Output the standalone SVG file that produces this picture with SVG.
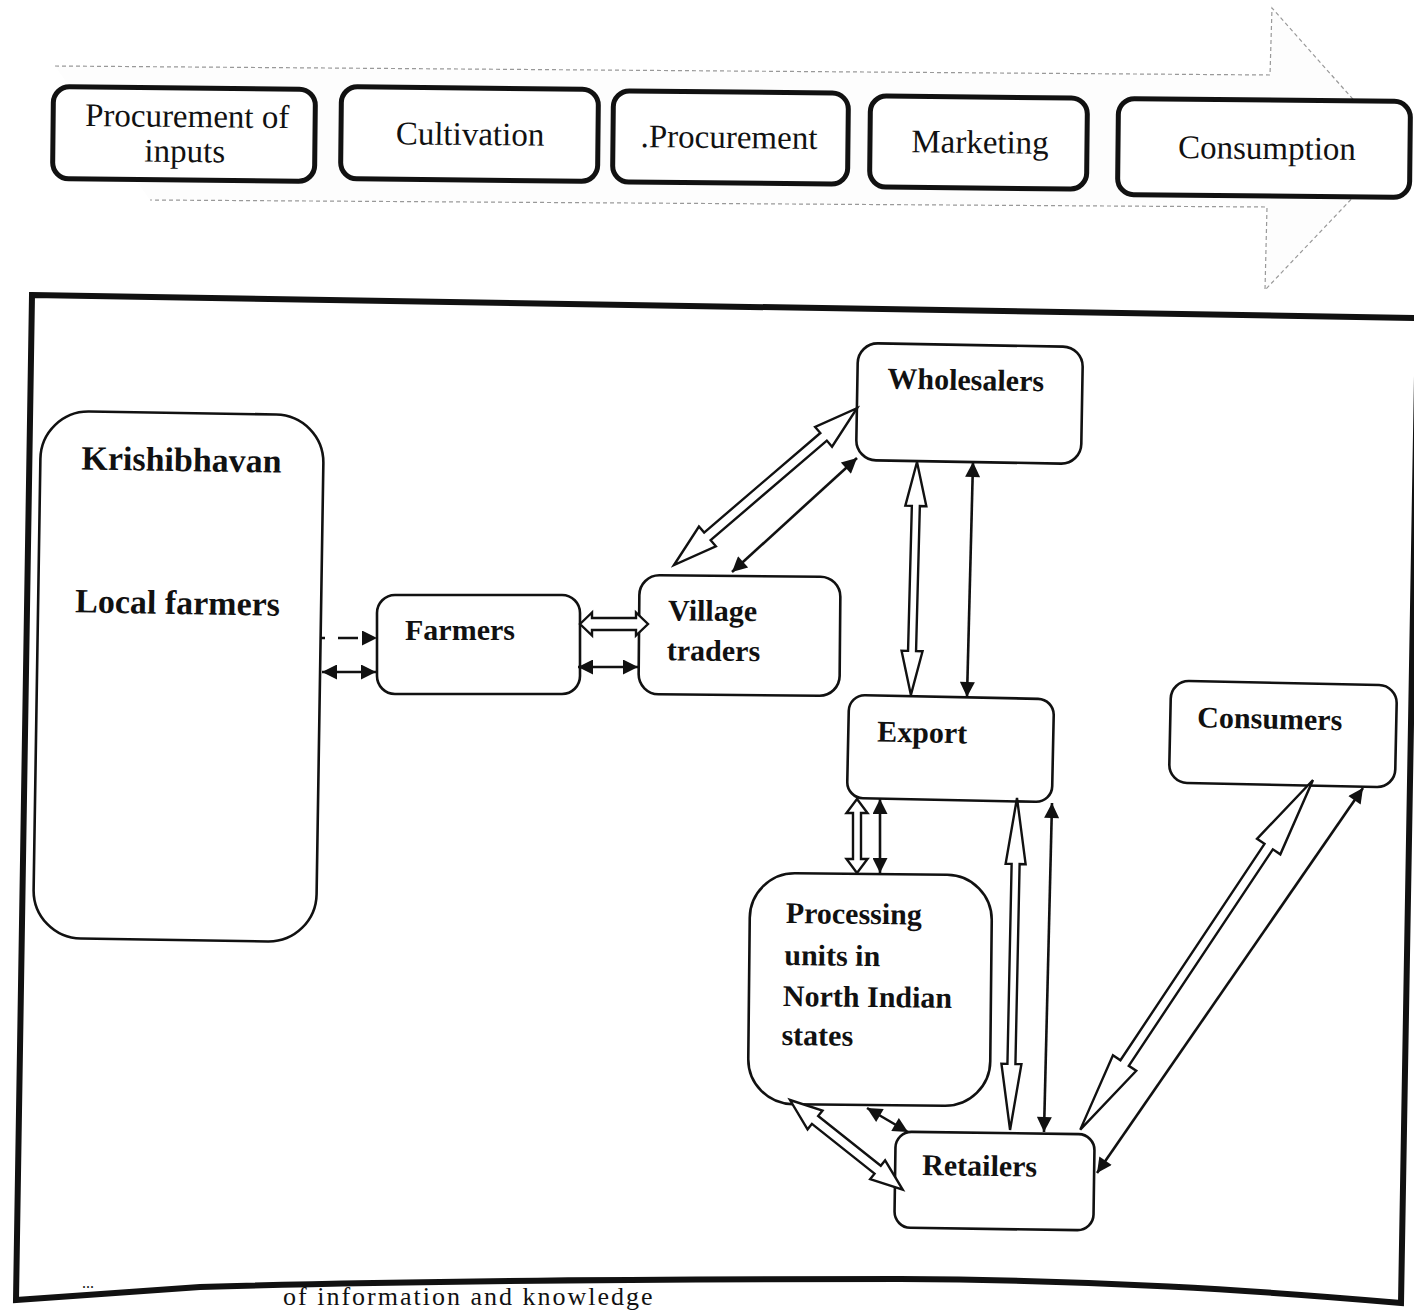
<svg xmlns="http://www.w3.org/2000/svg" width="1414" height="1313" viewBox="0 0 1414 1313">
  <defs>
    <style>
      .stage { fill: #ffffff; stroke: #111; stroke-width: 5; }
      .stage-text { font-family: "Liberation Serif", "Times New Roman", serif; font-size: 33px; fill: #111; text-anchor: middle; }
      .node { fill: #ffffff; stroke: #111; stroke-width: 2.6; }
      .label { font-family: "Liberation Serif", "Times New Roman", serif; font-size: 30px; font-weight: bold; fill: #111; }
      .big-label { font-family: "Liberation Serif", "Times New Roman", serif; font-size: 34px; font-weight: bold; fill: #111; }
      .hollow { fill: #ffffff; stroke: #111; stroke-width: 2.4; stroke-linejoin: miter; }
      .solid { fill: none; stroke: #111; stroke-width: 2.6; marker-start: url(#ah); marker-end: url(#ah); }
      .dashed { fill: none; stroke: #111; stroke-width: 2.6; stroke-dasharray: 5 13 20 100; marker-end: url(#ah); }
      .flow { fill: #fdfdfd; stroke: #999; stroke-width: 1.2; stroke-dasharray: 4 3; }
      .caption { font-family: "Liberation Serif", "Times New Roman", serif; font-size: 26px; letter-spacing: 2px; fill: #111; }
    </style>
    <marker id="ah" viewBox="0 0 10 10" refX="10" refY="5" markerWidth="19" markerHeight="15" markerUnits="userSpaceOnUse" orient="auto-start-reverse">
      <path d="M0,0 L10,5 L0,10 z" fill="#111"/>
    </marker>
  </defs>

  <rect width="1414" height="1313" fill="#ffffff"/>

  <!-- value chain stages on a broad arrow -->
  <g id="stage-arrow">
    <path class="flow" d="M 55,66 L 1270,75 L 1272,8 L 1398,150 L 1265,290 L 1267,207 L 150,200"/>
  </g>
  <g id="stage-inputs" transform="rotate(0.6 184 134)">
    <rect class="stage" x="53" y="88" width="262" height="92" rx="16"/>
    <text class="stage-text" x="187" y="127">Procurement of</text>
    <text class="stage-text" x="185" y="162">inputs</text>
  </g>
  <g id="stage-cultivation" transform="rotate(0.6 470 134)">
    <rect class="stage" x="341" y="88" width="257" height="92" rx="16"/>
    <text class="stage-text" x="470" y="145">Cultivation</text>
  </g>
  <g id="stage-procurement" transform="rotate(0.6 730 137)">
    <rect class="stage" x="613" y="92" width="235" height="91" rx="16"/>
    <text class="stage-text" x="729" y="148">.Procurement</text>
  </g>
  <g id="stage-marketing" transform="rotate(0.6 978 142)">
    <rect class="stage" x="870" y="97" width="217" height="91" rx="16"/>
    <text class="stage-text" x="980" y="153">Marketing</text>
  </g>
  <g id="stage-consumption" transform="rotate(0.6 1265 148)">
    <rect class="stage" x="1118" y="100" width="292" height="96" rx="16"/>
    <text class="stage-text" x="1267" y="159">Consumption</text>
  </g>

  <!-- outer frame of the actor network -->
  <g id="frame">
    <path d="M 32,295 L 1418,318 L 1401,1303 C 1250,1290 1100,1280 900,1279 C 700,1279 420,1280 200,1287 L 16,1300 Z" fill="none" stroke="#111" stroke-width="6" stroke-linejoin="miter"/>
    <text class="caption" x="283" y="1305">of information and knowledge</text>
    <text x="82" y="1288" font-family="Liberation Serif, serif" font-size="16" fill="#111">...</text>
  </g>

  <!-- actors -->
  <g id="krishibhavan" transform="rotate(0.9 178 676)">
    <rect class="node" x="37" y="413" width="283" height="527" rx="48"/>
    <text class="big-label" x="78" y="471">Krishibhavan</text>
    <text class="big-label" x="74" y="614">Local farmers</text>
  </g>
  <g id="farmers">
    <rect class="node" x="377" y="595" width="203" height="99" rx="18"/>
    <text class="label" x="405" y="640">Farmers</text>
  </g>
  <g id="village-traders" transform="rotate(0.5 739 635)">
    <rect class="node" x="639" y="576" width="201" height="119" rx="20"/>
    <text class="label" x="668" y="621">Village</text>
    <text class="label" x="667" y="661">traders</text>
  </g>
  <g id="wholesalers" transform="rotate(1 970 403)">
    <rect class="node" x="857" y="345" width="225" height="117" rx="20"/>
    <text class="label" x="887" y="390">Wholesalers</text>
  </g>
  <g id="export" transform="rotate(1.2 950 748)">
    <rect class="node" x="848" y="697" width="205" height="103" rx="16"/>
    <text class="label" x="877" y="743">Export</text>
  </g>
  <g id="consumers" transform="rotate(1.2 1283 734)">
    <rect class="node" x="1170" y="683" width="226" height="102" rx="18"/>
    <text class="label" x="1197" y="729">Consumers</text>
  </g>
  <g id="processing-units" transform="rotate(0.6 870 990)">
    <rect class="node" x="749" y="874" width="242" height="231" rx="45"/>
    <text class="label" x="785" y="924">Processing</text>
    <text class="label" x="784" y="966">units in</text>
    <text class="label" x="783" y="1007">North Indian</text>
    <text class="label" x="782" y="1046">states</text>
  </g>
  <g id="retailers" transform="rotate(0.8 995 1181)">
    <rect class="node" x="895" y="1133" width="199" height="96" rx="16"/>
    <text class="label" x="922" y="1176">Retailers</text>
  </g>

  <!-- flows between actors -->
  <g id="connectors">
    <!-- Krishibhavan / Farmers -->
    <line class="dashed" x1="320" y1="638" x2="377" y2="638"/>
    <line class="solid" x1="322" y1="672" x2="376" y2="672"/>
    <!-- Farmers / Village traders -->
    <polygon class="hollow" transform="translate(580 624)" points="0,0 12,-11.5 12,-6 56,-6 56,-11.5 68,0 56,11.5 56,6 12,6 12,11.5"/>
    <line class="solid" x1="578" y1="667" x2="638" y2="667"/>
    <!-- Village traders / Wholesalers -->
    <polygon class="hollow" transform="translate(674 565) rotate(-40.6)" points="0,0 44,-13 44,-5 197,-5 197,-13 241,0 197,13 197,5 44,5 44,13"/>
    <line class="solid" x1="732" y1="572" x2="857" y2="458"/>
    <!-- Wholesalers / Export -->
    <polygon class="hollow" transform="translate(917 462) rotate(91.5)" points="0,0 44,-10.5 44,-4 189,-4 189,-10.5 233,0 189,10.5 189,4 44,4 44,10.5"/>
    <line class="solid" x1="973" y1="462" x2="967" y2="697"/>
    <!-- Export / Processing units -->
    <polygon class="hollow" transform="translate(857 799) rotate(90)" points="0,0 14,-10.5 14,-4 60,-4 60,-10.5 74,0 60,10.5 60,4 14,4 14,10.5"/>
    <line class="solid" x1="880" y1="799" x2="880" y2="873"/>
    <!-- Export / Retailers -->
    <polygon class="hollow" transform="translate(1017 798) rotate(91.2)" points="0,0 66,-10 66,-4 266,-4 266,-10 332,0 266,10 266,4 66,4 66,10"/>
    <line class="solid" x1="1052" y1="803" x2="1044" y2="1132"/>
    <!-- Consumers / Retailers -->
    <polygon class="hollow" transform="translate(1313 780) rotate(123.65)" points="0,0 80,-14 80,-5 340,-5 340,-14 420,0 340,14 340,5 80,5 80,14"/>
    <line class="solid" x1="1363" y1="788" x2="1097" y2="1173"/>
    <!-- Processing units / Retailers -->
    <polygon class="hollow" transform="translate(790 1100) rotate(38.5)" points="0,0 32,-12 32,-5 112,-5 112,-12 144,0 112,12 112,5 32,5 32,12"/>
    <line class="solid" x1="867" y1="1108" x2="908" y2="1132"/>
  </g>
</svg>
